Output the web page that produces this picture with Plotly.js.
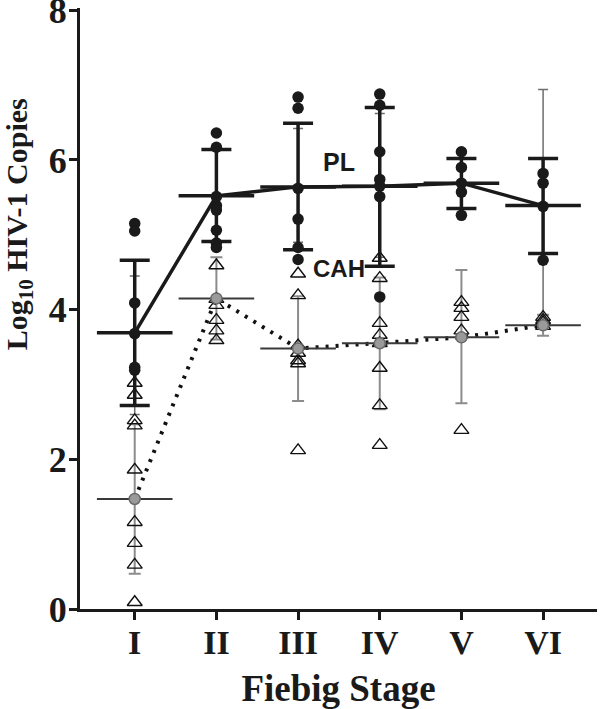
<!DOCTYPE html>
<html>
<head>
<meta charset="utf-8">
<script src="https://cdn.plot.ly/plotly-3.0.1.min.js"></script>
<style>html,body{margin:0;padding:0;background:#fff}#chart{width:600px;height:709px}</style>
</head>
<body>
<div id="chart"></div>
<script>
// Fiebig stages
const stages = ['I', 'II', 'III', 'IV', 'V', 'VI'];
const stageX = [1, 2, 3, 4, 5, 6];
const yTicks = [0, 2, 4, 6, 8];

// PL individual values (filled circles), one list per stage
const plValues = [
  [5.15, 5.05, 4.09, 3.68, 3.23, 3.19],
  [6.36, 6.17, 5.51, 5.39, 5.33, 5.06, 4.89, 4.83],
  [6.84, 6.69, 5.62, 5.21, 4.83, 4.67],
  [6.88, 6.73, 6.11, 5.74, 5.65, 5.51, 4.17],
  [6.11, 5.90, 5.69, 5.57, 5.26],
  [5.82, 5.69, 5.38, 4.66]
];
// CAH individual values (open triangles)
const cahValues = [
  [3.02, 2.86, 2.52, 2.45, 1.86, 1.16, 0.88, 0.59, 0.09],
  [4.59, 4.14, 4.06, 3.86, 3.72, 3.59],
  [4.48, 4.19, 3.52, 3.42, 3.32, 3.28, 2.12],
  [4.69, 4.42, 3.82, 3.66, 3.55, 3.22, 2.72, 2.19],
  [4.10, 4.02, 3.90, 3.72, 2.39],
  [3.90, 3.86, 3.83, 3.78]
];

// Means and error bar ends
const plMean  = [3.69, 5.52, 5.64, 5.65, 5.69, 5.39];
const plUpper = [4.66, 6.14, 6.49, 6.70, 6.02, 6.02];
const plLower = [2.72, 4.91, 4.80, 4.58, 5.35, 4.75];

const cahMean  = [1.47, 4.15, 3.48, 3.55, 3.63, 3.79];
const cahUpper = [2.47, 4.70, 4.18, 4.43, 4.53, 3.93];
const cahLower = [0.47, 3.60, 2.78, 2.67, 2.75, 3.65];

// faint extra bars (thin grey caps)
const extraLow  = [2.60, null, 4.90, 4.70, null, 3.93];
const extraHigh = [4.45, null, 6.42, 6.62, null, 6.94];

function flatten(vals) {
  const xs = [], ys = [];
  vals.forEach((arr, i) => arr.forEach(v => { xs.push(stageX[i]); ys.push(v); }));
  return {xs, ys};
}
const pl = flatten(plValues);
const cah = flatten(cahValues);

const exX = [], exMid = [], exPlus = [], exMinus = [];
stageX.forEach((x, i) => {
  if (extraLow[i] === null) return;
  const mid = (extraLow[i] + extraHigh[i]) / 2;
  exX.push(x); exMid.push(mid);
  exPlus.push(extraHigh[i] - mid); exMinus.push(mid - extraLow[i]);
});

const GRAY = '#8c8c8c';

const traces = [
  {x: exX, y: exMid, type: 'scatter', mode: 'markers',
   marker: {size: 1, color: 'rgba(0,0,0,0)'},
   error_y: {type: 'data', symmetric: false, array: exPlus, arrayminus: exMinus,
             color: '#6e6e6e', thickness: 1.5, width: 5},
   hoverinfo: 'skip', showlegend: false},
  {x: stageX, y: cahMean, type: 'scatter', mode: 'markers',
   marker: {size: 1, color: 'rgba(0,0,0,0)'},
   error_y: {type: 'data', symmetric: false,
             array: cahUpper.map((u, i) => u - cahMean[i]),
             arrayminus: cahLower.map((l, i) => cahMean[i] - l),
             color: GRAY, thickness: 2, width: 6},
   showlegend: false},
  {x: cah.xs, y: cah.ys, type: 'scatter', mode: 'markers',
   marker: {symbol: 'triangle-up-open', size: 13, color: '#111', line: {width: 1.4, color: '#111'}},
   showlegend: false},
  {x: stageX, y: cahMean, type: 'scatter', mode: 'lines',
   line: {color: '#111', width: 4, dash: '3px,7px'}, showlegend: false},
  {x: stageX, y: cahMean, type: 'scatter', mode: 'markers',
   marker: {symbol: 'line-ew', size: 54, line: {width: 2, color: '#3a3a3a'}},
   showlegend: false},
  {x: stageX, y: cahMean, type: 'scatter', mode: 'markers',
   marker: {symbol: 'circle', size: 11, color: '#9a9a9a', line: {width: 1.5, color: '#6a6a6a'}},
   showlegend: false},
  {x: stageX, y: plMean, type: 'scatter', mode: 'markers',
   marker: {size: 1, color: 'rgba(0,0,0,0)'},
   error_y: {type: 'data', symmetric: false,
             array: plUpper.map((u, i) => u - plMean[i]),
             arrayminus: plMean.map((m, i) => m - plLower[i]),
             color: '#1a1a1a', thickness: 3.5, width: 15},
   showlegend: false},
  {x: pl.xs, y: pl.ys, type: 'scatter', mode: 'markers',
   marker: {symbol: 'circle', size: 11.5, color: '#1a1a1a'}, showlegend: false},
  {x: stageX, y: plMean, type: 'scatter', mode: 'lines',
   line: {color: '#1a1a1a', width: 3.5}, showlegend: false},
  {x: stageX, y: plMean, type: 'scatter', mode: 'markers',
   marker: {symbol: 'line-ew', size: 54, line: {width: 3.5, color: '#1a1a1a'}},
   showlegend: false}
];

const serif = 'Liberation Serif, Times New Roman, serif';
const layout = {
  width: 600, height: 709,
  margin: {l: 80, r: 3, t: 8, b: 100},
  paper_bgcolor: '#fff', plot_bgcolor: '#fff',
  showlegend: false,
  xaxis: {
    range: [0.33, 6.66], tickmode: 'array', tickvals: stageX,
    ticktext: stages.map(s => '<b>' + s + '</b>'),
    showgrid: false, zeroline: false, showline: true, linecolor: '#1a1a1a', linewidth: 3,
    ticks: 'outside', ticklen: 8, tickwidth: 3, tickcolor: '#1a1a1a',
    ticklabelstandoff: -7,
    tickfont: {family: serif, size: 34, color: '#1a1a1a'},
    title: {text: '<b>Fiebig Stage</b>', font: {family: serif, size: 37, color: '#1a1a1a'}, standoff: 16}
  },
  yaxis: {
    range: [0, 8.03], tickmode: 'array', tickvals: yTicks,
    ticktext: yTicks.map(v => '<b>' + v + '</b>'),
    showgrid: false, zeroline: false, showline: true, linecolor: '#1a1a1a', linewidth: 3,
    ticks: 'outside', ticklen: 8, tickwidth: 3, tickcolor: '#1a1a1a',
    ticklabeloverflow: 'allow', ticklabelstandoff: -5,
    tickfont: {family: serif, size: 36, color: '#1a1a1a'}
  },
  annotations: [
    {text: '<b>Log<sub>10</sub> HIV-1 Copies</b>', xref: 'paper', yref: 'paper',
     x: -0.118, y: 0.64, textangle: -90, showarrow: false, xanchor: 'center', yanchor: 'middle',
     font: {family: serif, size: 30, color: '#1a1a1a'}},
    {text: '<b>PL</b>', xref: 'x', yref: 'y', x: 3.5, y: 5.97, showarrow: false,
     font: {family: 'Liberation Sans, Arial, sans-serif', size: 25, color: '#1a1a1a'}},
    {text: '<b>CAH</b>', xref: 'x', yref: 'y', x: 3.5, y: 4.55, showarrow: false,
     font: {family: 'Liberation Sans, Arial, sans-serif', size: 24, color: '#1a1a1a'}}
  ]
};

Plotly.newPlot('chart', traces, layout, {displayModeBar: false, staticPlot: true});
</script>
</body>
</html>
